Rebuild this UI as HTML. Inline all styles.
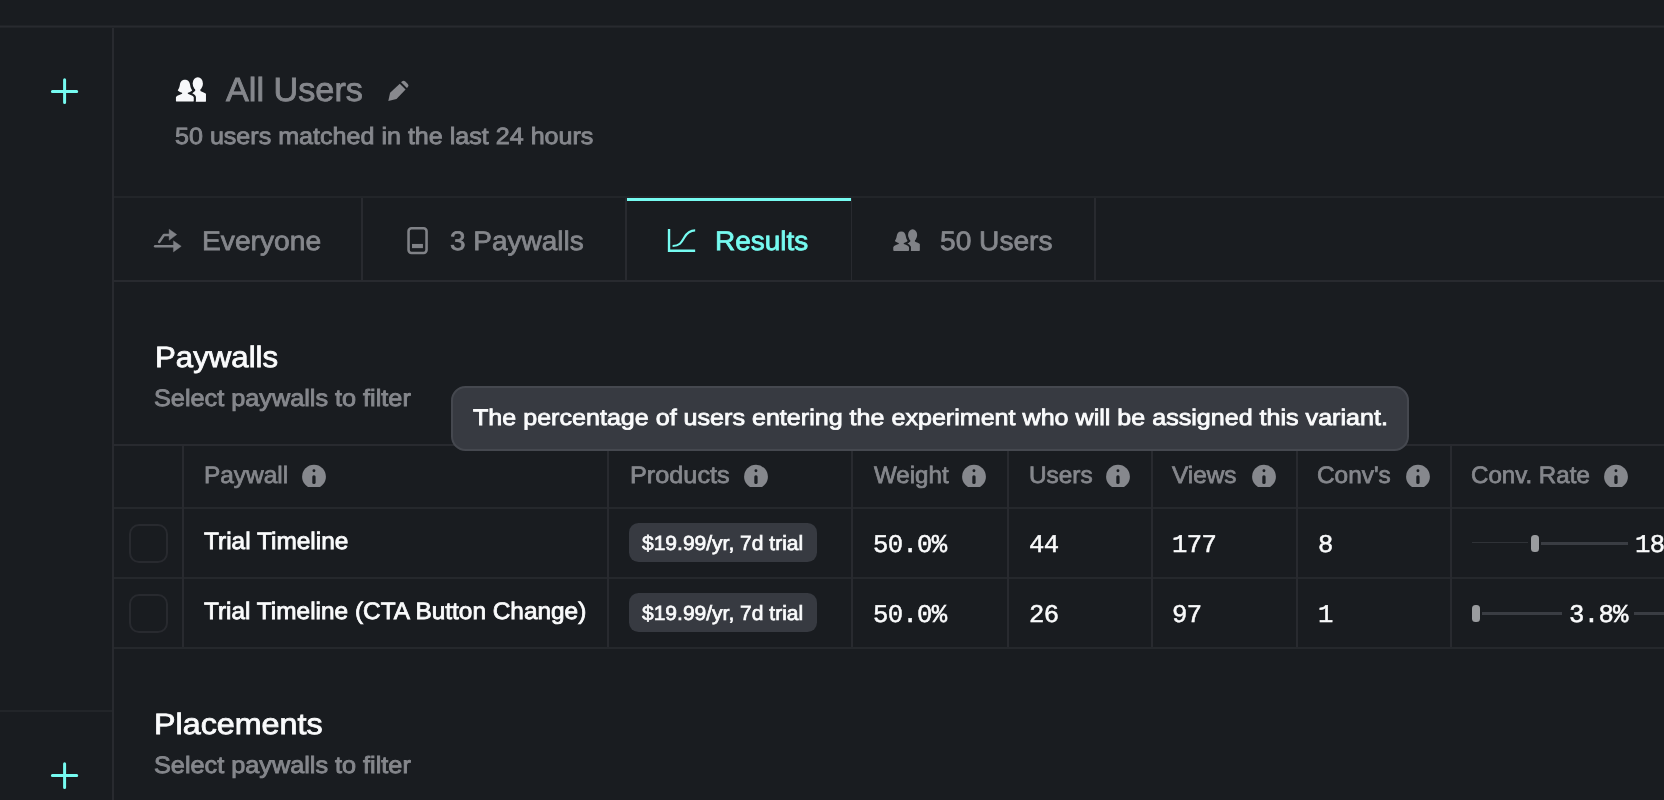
<!DOCTYPE html>
<html>
<head>
<meta charset="utf-8">
<title>All Users - Results</title>
<style>
*{box-sizing:border-box;margin:0;padding:0}
html,body{width:1664px;height:800px;overflow:hidden;background:#191c20}
body{font-family:"Liberation Sans",sans-serif;color:#fafbfc;position:relative}
.abs{position:absolute}
.t{position:absolute;white-space:nowrap;line-height:1;will-change:transform;transform-origin:0 0;text-rendering:geometricPrecision}
.t i{display:inline-block;width:0;height:0;vertical-align:baseline}
.hl{position:absolute;height:2px;background:#282a2f}
.vl{position:absolute;width:2px;background:#282a2f}
.mono{font-family:"Liberation Mono",monospace}
svg{position:absolute;overflow:visible}
.cb{position:absolute;width:39px;height:39px;border:2px solid #282a2f;border-radius:10px}
.pill{position:absolute;height:39px;width:188px;left:629px;background:#373a41;border-radius:9.5px}
</style>
</head>
<body>

<!-- structural lines -->
<div class="hl" style="left:0;top:26px;width:1664px;height:1px;box-shadow:0 -1px 0 #202327,0 1px 0 #212428"></div>
<div class="vl" style="left:112px;top:28px;height:772px"></div>
<div class="hl" style="left:0;top:710px;width:112px;background:#222529"></div>
<div class="hl" style="left:114px;top:196px;width:1550px;background:#222529"></div>
<div class="hl" style="left:114px;top:280px;width:1550px"></div>
<!-- tab dividers -->
<div class="vl" style="left:361px;top:198px;height:82px"></div>
<div class="vl" style="left:625px;top:198px;height:82px"></div>
<div class="vl" style="left:1094px;top:198px;height:82px"></div>
<div class="vl" style="left:851px;top:198px;height:82px;width:1px"></div>
<div class="abs" style="left:627px;top:198px;width:224px;height:3px;background:#76fbf1"></div>
<!-- sidebar plus icons -->
<svg style="left:0;top:0" width="112" height="800" viewBox="0 0 112 800"><g stroke="#76fbf1" stroke-width="3" stroke-linecap="round" fill="none"><path d="M64.6 79.7V102.6M52.4 91.5H76.7"/><path d="M64.6 763.7V787.6M52.4 775.5H76.7"/></g></svg>
<!-- header icons -->
<svg style="left:170.00px;top:70.00px" width="45.01" height="38.02" viewBox="0 0 947 800"><g fill="#f7f8fa"><ellipse cx="585" cy="288" rx="108" ry="137"/><path d="M530 395 L530 440 C500 465 430 475 413 495 L413 668 L740 668 Q757 668 757 650 L757 500 C745 478 680 465 640 440 L640 395 Z"/></g><path d="M315 205 C385 205 412 250 422 310 C432 370 450 400 467 430 C440 458 400 468 375 477 L375 500 C420 520 485 535 500 575 L500 645 Q500 665 480 665 L145 665 Q125 665 125 645 L125 575 C140 535 210 520 255 500 L255 477 C230 468 190 458 163 430 C180 400 198 370 208 310 C218 250 245 205 315 205 Z" fill="#f7f8fa" stroke="#191c20" stroke-width="92" stroke-linejoin="round" paint-order="stroke"/></svg>
<svg style="left:380px;top:74px" width="36" height="34" viewBox="0 0 847 800"><g fill="#88898e"><path d="M195 637 L238 440 L465 228 L602 365 L388 590 Z"/><path d="M496 192 L633 332 L656 306 Q686 268 655 233 L596 174 Q558 143 521 169 Z"/></g></svg>
<!-- tab icons -->
<svg style="left:148px;top:222px" width="40" height="38" viewBox="0 0 842 800"><g fill="#808287" stroke="#808287"><path d="M150 510 H545" stroke-width="52" fill="none" stroke-linecap="round"/><path d="M535 395 L700 510 L535 630 Z" stroke-width="8" stroke-linejoin="round"/><path d="M235 420 L335 275 H455" stroke-width="52" fill="none" stroke-linecap="round" stroke-linejoin="round"/><path d="M445 150 L605 265 L445 385 Z" stroke-width="8" stroke-linejoin="round"/></g></svg>
<svg style="left:398px;top:222px" width="40" height="38" viewBox="0 0 842 800"><rect x="222" y="132" width="379" height="521" rx="62" fill="none" stroke="#808287" stroke-width="54"/><rect x="295" y="462" width="230" height="88" fill="#808287"/></svg>
<svg style="left:660px;top:222px" width="40" height="38" viewBox="0 0 842 800"><g fill="none" stroke="#76fbf1"><path d="M190 145 V606 H740" stroke-width="50"/><path d="M265 505 C425 505 460 415 508 332 C560 240 615 178 740 178" stroke-width="46"/></g></svg>
<svg style="left:888.49px;top:223.19px" width="39.83" height="33.65" viewBox="0 0 947 800"><g fill="#808287"><ellipse cx="585" cy="288" rx="108" ry="137"/><path d="M530 395 L530 440 C500 465 430 475 413 495 L413 668 L740 668 Q757 668 757 650 L757 500 C745 478 680 465 640 440 L640 395 Z"/></g><path d="M315 205 C385 205 412 250 422 310 C432 370 450 400 467 430 C440 458 400 468 375 477 L375 500 C420 520 485 535 500 575 L500 645 Q500 665 480 665 L145 665 Q125 665 125 645 L125 575 C140 535 210 520 255 500 L255 477 C230 468 190 458 163 430 C180 400 198 370 208 310 C218 250 245 205 315 205 Z" fill="#808287" stroke="#191c20" stroke-width="92" stroke-linejoin="round" paint-order="stroke"/></svg>
<!-- table lines -->
<div class="hl" style="left:114px;top:444px;width:1550px"></div>
<div class="hl" style="left:114px;top:507px;width:1550px;background:#25282c"></div>
<div class="hl" style="left:114px;top:577px;width:1550px;background:#25282c"></div>
<div class="hl" style="left:114px;top:647px;width:1550px;background:#25282c"></div>
<div class="vl" style="left:182px;top:446px;height:201px"></div>
<div class="vl" style="left:607px;top:446px;height:201px"></div>
<div class="vl" style="left:851px;top:446px;height:201px"></div>
<div class="vl" style="left:1007px;top:446px;height:201px"></div>
<div class="vl" style="left:1151px;top:446px;height:201px"></div>
<div class="vl" style="left:1296px;top:446px;height:201px"></div>
<div class="vl" style="left:1450px;top:446px;height:201px"></div>
<!-- info icons -->
<svg style="left:302px;top:464px;overflow:hidden" width="24" height="23" viewBox="0 0 24 23"><circle cx="12" cy="12.7" r="11.9" fill="#86888d"/><circle cx="11.95" cy="6.8" r="1.45" fill="#191c20"/><rect x="10.3" y="11.2" width="3.3" height="8.8" rx="1.6" fill="#191c20"/></svg>
<svg style="left:744px;top:464px;overflow:hidden" width="24" height="23" viewBox="0 0 24 23"><circle cx="12" cy="12.7" r="11.9" fill="#86888d"/><circle cx="11.95" cy="6.8" r="1.45" fill="#191c20"/><rect x="10.3" y="11.2" width="3.3" height="8.8" rx="1.6" fill="#191c20"/></svg>
<svg style="left:962px;top:464px;overflow:hidden" width="24" height="23" viewBox="0 0 24 23"><circle cx="12" cy="12.7" r="11.9" fill="#86888d"/><circle cx="11.95" cy="6.8" r="1.45" fill="#191c20"/><rect x="10.3" y="11.2" width="3.3" height="8.8" rx="1.6" fill="#191c20"/></svg>
<svg style="left:1106px;top:464px;overflow:hidden" width="24" height="23" viewBox="0 0 24 23"><circle cx="12" cy="12.7" r="11.9" fill="#86888d"/><circle cx="11.95" cy="6.8" r="1.45" fill="#191c20"/><rect x="10.3" y="11.2" width="3.3" height="8.8" rx="1.6" fill="#191c20"/></svg>
<svg style="left:1252px;top:464px;overflow:hidden" width="24" height="23" viewBox="0 0 24 23"><circle cx="12" cy="12.7" r="11.9" fill="#86888d"/><circle cx="11.95" cy="6.8" r="1.45" fill="#191c20"/><rect x="10.3" y="11.2" width="3.3" height="8.8" rx="1.6" fill="#191c20"/></svg>
<svg style="left:1406px;top:464px;overflow:hidden" width="24" height="23" viewBox="0 0 24 23"><circle cx="12" cy="12.7" r="11.9" fill="#86888d"/><circle cx="11.95" cy="6.8" r="1.45" fill="#191c20"/><rect x="10.3" y="11.2" width="3.3" height="8.8" rx="1.6" fill="#191c20"/></svg>
<svg style="left:1604px;top:464px;overflow:hidden" width="24" height="23" viewBox="0 0 24 23"><circle cx="12" cy="12.7" r="11.9" fill="#86888d"/><circle cx="11.95" cy="6.8" r="1.45" fill="#191c20"/><rect x="10.3" y="11.2" width="3.3" height="8.8" rx="1.6" fill="#191c20"/></svg>
<!-- checkboxes and pills -->
<div class="cb" style="left:129px;top:524px"></div>
<div class="cb" style="left:129px;top:594px"></div>
<div class="pill" style="top:523px"></div>
<div class="pill" style="top:593px"></div>
<!-- conv rate bars -->
<div class="abs" style="left:1472px;top:542px;width:56px;height:1px;background:#2f3237"></div>
<div class="abs" style="left:1531px;top:535px;width:7.5px;height:16.5px;border-radius:3.5px;background:#9a9c9f"></div>
<div class="abs" style="left:1541px;top:541.5px;width:87px;height:3px;background:#3a3d43"></div>
<div class="abs" style="left:1472px;top:605px;width:7.5px;height:16.5px;border-radius:3.5px;background:#9a9c9f"></div>
<div class="abs" style="left:1482px;top:611.5px;width:80px;height:3px;background:#3a3d43"></div>
<div class="abs" style="left:1634px;top:611.5px;width:30px;height:3px;background:#3a3d43"></div>
<!-- tooltip -->
<div class="abs" id="tip" style="left:451px;top:386px;width:958px;height:65px;border-radius:14.5px;background:#373a41;border:2px solid #45484f"></div>
<!-- text -->
<div class="t" id="h1" style="left:226.20px;top:74.40px;font-size:33.4px;letter-spacing:0.000px;transform:scaleX(1.0248);color:#85878c;-webkit-text-stroke:0.85px #85878c">All Users</div>
<div class="t" id="h2" style="left:174.97px;top:125.10px;font-size:23.5px;letter-spacing:0.000px;transform:scaleX(1.0676);color:#85878c;-webkit-text-stroke:0.85px #85878c">50 users matched in the last 24 hours</div>
<div class="t" id="tab1" style="left:201.83px;top:227.90px;font-size:26.8px;letter-spacing:0.000px;transform:scaleX(1.0523);color:#85878c;-webkit-text-stroke:0.75px #85878c">Everyone</div>
<div class="t" id="tab2" style="left:450.47px;top:227.90px;font-size:26.8px;letter-spacing:0.000px;transform:scaleX(1.0433);color:#85878c;-webkit-text-stroke:0.75px #85878c">3 Paywalls</div>
<div class="t" id="tab3" style="left:715.26px;top:227.90px;font-size:26.8px;letter-spacing:0.000px;transform:scaleX(1.0426);color:#76fbf1;-webkit-text-stroke:0.75px #76fbf1">Results</div>
<div class="t" id="tab4" style="left:940.46px;top:227.90px;font-size:26.8px;letter-spacing:0.000px;transform:scaleX(1.0495);color:#85878c;-webkit-text-stroke:0.75px #85878c">50 Users</div>
<div class="t" id="s1" style="left:154.88px;top:342.80px;font-size:29.4px;letter-spacing:0.000px;transform:scaleX(1.0614);color:#fafbfc;-webkit-text-stroke:0.8px #fafbfc">Paywalls</div>
<div class="t" id="s1b" style="left:153.93px;top:387.60px;font-size:23.6px;letter-spacing:0.000px;transform:scaleX(1.0701);color:#85878c;-webkit-text-stroke:0.85px #85878c">Select paywalls to filter</div>
<div class="t" id="s2" style="left:154.21px;top:709.80px;font-size:29.4px;letter-spacing:0.000px;transform:scaleX(1.0980);color:#fafbfc;-webkit-text-stroke:0.8px #fafbfc">Placements</div>
<div class="t" id="s2b" style="left:153.93px;top:754.60px;font-size:23.6px;letter-spacing:0.000px;transform:scaleX(1.0701);color:#85878c;-webkit-text-stroke:0.85px #85878c">Select paywalls to filter</div>
<div class="t" id="c1" style="left:203.96px;top:464.00px;font-size:23.8px;letter-spacing:0.000px;transform:scaleX(1.0250);color:#85878c;-webkit-text-stroke:0.75px #85878c">Paywall</div>
<div class="t" id="c2" style="left:629.71px;top:464.00px;font-size:23.8px;letter-spacing:0.000px;transform:scaleX(1.0613);color:#85878c;-webkit-text-stroke:0.75px #85878c">Products</div>
<div class="t" id="c3" style="left:873.50px;top:464.00px;font-size:23.8px;letter-spacing:0.000px;transform:scaleX(1.0135);color:#85878c;-webkit-text-stroke:0.75px #85878c">Weight</div>
<div class="t" id="c4" style="left:1028.98px;top:464.00px;font-size:23.8px;letter-spacing:0.000px;transform:scaleX(1.0246);color:#85878c;-webkit-text-stroke:0.75px #85878c">Users</div>
<div class="t" id="c5" style="left:1171.99px;top:464.00px;font-size:23.8px;letter-spacing:0.000px;transform:scaleX(1.0238);color:#85878c;-webkit-text-stroke:0.75px #85878c">Views</div>
<div class="t" id="c6" style="left:1316.96px;top:464.00px;font-size:23.8px;letter-spacing:0.000px;transform:scaleX(1.0246);color:#85878c;-webkit-text-stroke:0.75px #85878c">Conv's</div>
<div class="t" id="c7" style="left:1471.49px;top:464.00px;font-size:23.8px;letter-spacing:0.000px;transform:scaleX(1.0129);color:#85878c;-webkit-text-stroke:0.75px #85878c">Conv. Rate</div>
<div class="t" id="r1a" style="left:204.39px;top:530.20px;font-size:23.8px;letter-spacing:0.000px;transform:scaleX(1.0271);color:#fafbfc;-webkit-text-stroke:0.8px #fafbfc">Trial Timeline</div>
<div class="t" id="r2a" style="left:204.39px;top:600.20px;font-size:23.8px;letter-spacing:0.000px;transform:scaleX(1.0250);color:#fafbfc;-webkit-text-stroke:0.8px #fafbfc">Trial Timeline (CTA Button Change)</div>
<div class="t" id="p1" style="left:641.98px;top:533.50px;font-size:20.4px;letter-spacing:0.000px;transform:scaleX(1.0304);color:#fafbfc;-webkit-text-stroke:0.7px #fafbfc">$19.99/yr, 7d trial</div>
<div class="t" id="p2" style="left:641.98px;top:603.50px;font-size:20.4px;letter-spacing:0.000px;transform:scaleX(1.0304);color:#fafbfc;-webkit-text-stroke:0.7px #fafbfc">$19.99/yr, 7d trial</div>
<div class="t mono" id="m1" style="left:873.00px;top:532.80px;font-size:25.6px;letter-spacing:-0.660px;transform:scaleX(1.0000);color:#fafbfc;-webkit-text-stroke:0.5px #fafbfc">50.0%</div>
<div class="t mono" id="m2" style="left:873.00px;top:602.80px;font-size:25.6px;letter-spacing:-0.660px;transform:scaleX(1.0000);color:#fafbfc;-webkit-text-stroke:0.5px #fafbfc">50.0%</div>
<div class="t mono" id="m3" style="left:1029.00px;top:532.80px;font-size:25.6px;letter-spacing:-0.660px;transform:scaleX(1.0000);color:#fafbfc;-webkit-text-stroke:0.5px #fafbfc">44</div>
<div class="t mono" id="m4" style="left:1029.00px;top:602.80px;font-size:25.6px;letter-spacing:-0.660px;transform:scaleX(1.0000);color:#fafbfc;-webkit-text-stroke:0.5px #fafbfc">26</div>
<div class="t mono" id="m5" style="left:1172.00px;top:532.80px;font-size:25.6px;letter-spacing:-0.660px;transform:scaleX(1.0000);color:#fafbfc;-webkit-text-stroke:0.5px #fafbfc">177</div>
<div class="t mono" id="m6" style="left:1172.00px;top:602.80px;font-size:25.6px;letter-spacing:-0.660px;transform:scaleX(1.0000);color:#fafbfc;-webkit-text-stroke:0.5px #fafbfc">97</div>
<div class="t mono" id="m7" style="left:1317.50px;top:532.80px;font-size:25.6px;letter-spacing:-0.660px;transform:scaleX(1.0000);color:#fafbfc;-webkit-text-stroke:0.5px #fafbfc">8</div>
<div class="t mono" id="m8" style="left:1317.50px;top:602.80px;font-size:25.6px;letter-spacing:-0.660px;transform:scaleX(1.0000);color:#fafbfc;-webkit-text-stroke:0.5px #fafbfc">1</div>
<div class="t mono" id="m9" style="left:1634.79px;top:532.80px;font-size:25.6px;letter-spacing:-0.660px;transform:scaleX(1.0000);color:#fafbfc;-webkit-text-stroke:0.5px #fafbfc">18.2%</div>
<div class="t mono" id="m10" style="left:1568.79px;top:602.80px;font-size:25.6px;letter-spacing:-0.660px;transform:scaleX(1.0000);color:#fafbfc;-webkit-text-stroke:0.5px #fafbfc">3.8%</div>
<div class="t" id="tt" style="left:473.00px;top:407.30px;font-size:22.5px;letter-spacing:0.000px;transform:scaleX(1.1151);color:#fafbfc;-webkit-text-stroke:0.8px #fafbfc">The percentage of users entering the experiment who will be assigned this variant.</div>
</body>
</html>
